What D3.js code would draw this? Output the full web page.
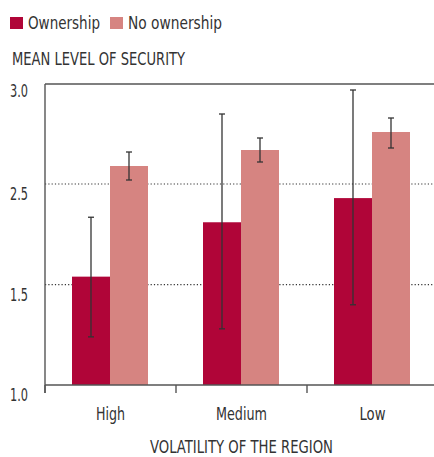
<!DOCTYPE html>
<html>
<head>
<meta charset="utf-8">
<script src="https://cdn.jsdelivr.net/npm/d3@7"></script>
<style>
  html, body { margin: 0; padding: 0; background: #fff; }
  svg { display: block; }
  text { font-family: "DejaVu Sans Condensed", "Liberation Sans Narrow", sans-serif; fill: #333; }
</style>
</head>
<body>
<svg id="chart" width="434" height="457"></svg>
<script>
const categories = ["High", "Medium", "Low"];
const seriesNames = ["Ownership", "No ownership"];
const ownership = [1.58, 2.12, 2.36];
const ownershipLow = [1.24, 1.28, 1.40];
const ownershipHigh = [2.17, 2.85, 2.97];
const noOwnership = [2.59, 2.67, 2.76];
const noOwnershipLow = [2.52, 2.61, 2.68];
const noOwnershipHigh = [2.66, 2.73, 2.83];
const yTicks = [1.0, 1.5, 2.5, 3.0];
const gridValues = [1.5, 2.5];

const colors = { "Ownership": "#b00538", "No ownership": "#d68481" };

// the original uses a narrow DIN-like face; squeeze to its widths
const textWidths = {
    "Ownership": 72, "No ownership": 94,
    "MEAN LEVEL OF SECURITY": 173, "VOLATILITY OF THE REGION": 183,
    "High": 29, "Medium": 51, "Low": 26
};
function squeeze(sel) {
    sel.each(function() {
        const t = d3.select(this);
        const w = textWidths[t.text()] || (t.text().length === 3 ? 18 : null);
        if (w) t.attr("textLength", w).attr("lengthAdjust", "spacingAndGlyphs");
    });
}

const svg = d3.select("#chart");
const plotLeft = 45, plotTop = 84, plotBottom = 385, plotRight = 434;

// the printed axis spaces its labels evenly, so the scale is piecewise
const y = d3.scaleLinear()
    .domain(yTicks)
    .range([plotBottom, 284.7, 184, plotTop]);

const x = d3.scaleBand()
    .domain(categories)
    .range([plotLeft, plotLeft + 131 * 3])
    .paddingInner(0);

const xInner = d3.scaleBand()
    .domain(seriesNames)
    .range([27, 103]);

const rows = categories.map((c, i) => ({
    cat: c,
    bars: [
        { s: "Ownership", v: ownership[i], lo: ownershipLow[i], hi: ownershipHigh[i] },
        { s: "No ownership", v: noOwnership[i], lo: noOwnershipLow[i], hi: noOwnershipHigh[i] }
    ]
}));

// dotted grid
svg.selectAll("line.grid")
    .data(gridValues)
    .enter()
    .append("line")
    .attr("class", "grid")
    .attr("x1", plotLeft).attr("x2", plotRight)
    .attr("y1", d => y(d)).attr("y2", d => y(d))
    .attr("stroke", "#333")
    .attr("stroke-width", 1.2)
    .attr("stroke-dasharray", "1.2,2.1");

// bars
const groups = svg.selectAll("g.cat")
    .data(rows)
    .enter()
    .append("g")
    .attr("class", "cat")
    .attr("transform", d => "translate(" + x(d.cat) + ",0)");

groups.selectAll("rect")
    .data(d => d.bars)
    .enter()
    .append("rect")
    .attr("x", d => xInner(d.s))
    .attr("width", xInner.bandwidth())
    .attr("y", d => y(d.v))
    .attr("height", d => plotBottom - y(d.v))
    .attr("fill", d => colors[d.s]);

// error bars
const err = groups.selectAll("g.err")
    .data(d => d.bars)
    .enter()
    .append("g")
    .attr("class", "err")
    .attr("transform", d => "translate(" + (xInner(d.s) + xInner.bandwidth() / 2) + ",0)")
    .attr("stroke", "#333")
    .attr("stroke-width", 1.3);

err.append("line")
    .attr("y1", d => y(d.lo)).attr("y2", d => y(d.hi));
err.append("line")
    .attr("x1", -3).attr("x2", 3)
    .attr("y1", d => y(d.hi)).attr("y2", d => y(d.hi));
err.append("line")
    .attr("x1", -3).attr("x2", 3)
    .attr("y1", d => y(d.lo)).attr("y2", d => y(d.lo));

// frame
const frame = svg.append("g").attr("stroke", "#555").attr("stroke-width", 1.4);
frame.append("line").attr("x1", plotLeft).attr("x2", plotRight).attr("y1", plotTop).attr("y2", plotTop);
frame.append("line").attr("x1", plotLeft).attr("x2", plotRight).attr("y1", plotBottom).attr("y2", plotBottom);
frame.append("line").attr("x1", plotLeft).attr("x2", plotLeft).attr("y1", plotTop).attr("y2", plotBottom + 8);
frame.selectAll("line.tick")
    .data(categories)
    .enter()
    .append("line")
    .attr("class", "tick")
    .attr("x1", d => x(d)).attr("x2", d => x(d))
    .attr("y1", plotBottom).attr("y2", plotBottom + 8);

// y tick labels
svg.selectAll("text.ylab")
    .data(yTicks)
    .enter()
    .append("text")
    .attr("class", "ylab")
    .attr("x", 10)
    .attr("y", d => y(d) + (d === 3 ? 13 : 16))
    .attr("font-size", 17)
    .text(d => d.toFixed(1))
    .call(squeeze);

// x labels
svg.selectAll("text.xlab")
    .data(categories)
    .enter()
    .append("text")
    .attr("class", "xlab")
    .attr("x", d => x(d) + x.bandwidth() / 2)
    .attr("y", 420)
    .attr("text-anchor", "middle")
    .attr("font-size", 17)
    .text(d => d)
    .call(squeeze);

svg.append("text")
    .attr("x", 241.5)
    .attr("y", 453)
    .attr("text-anchor", "middle")
    .attr("font-size", 17)
    .text("VOLATILITY OF THE REGION")
    .call(squeeze);

svg.append("text")
    .attr("x", 12)
    .attr("y", 65)
    .attr("font-size", 17)
    .text("MEAN LEVEL OF SECURITY")
    .call(squeeze);

// legend
const legendX = [10, 110];
const leg = svg.selectAll("g.leg")
    .data(seriesNames)
    .enter()
    .append("g")
    .attr("class", "leg")
    .attr("transform", (d, i) => "translate(" + legendX[i] + ",0)");
leg.append("rect")
    .attr("y", 17).attr("width", 13).attr("height", 12)
    .attr("fill", d => colors[d]);
leg.append("text")
    .attr("x", 18).attr("y", 29)
    .attr("font-size", 17)
    .text(d => d)
    .call(squeeze);
</script>
</body>
</html>
